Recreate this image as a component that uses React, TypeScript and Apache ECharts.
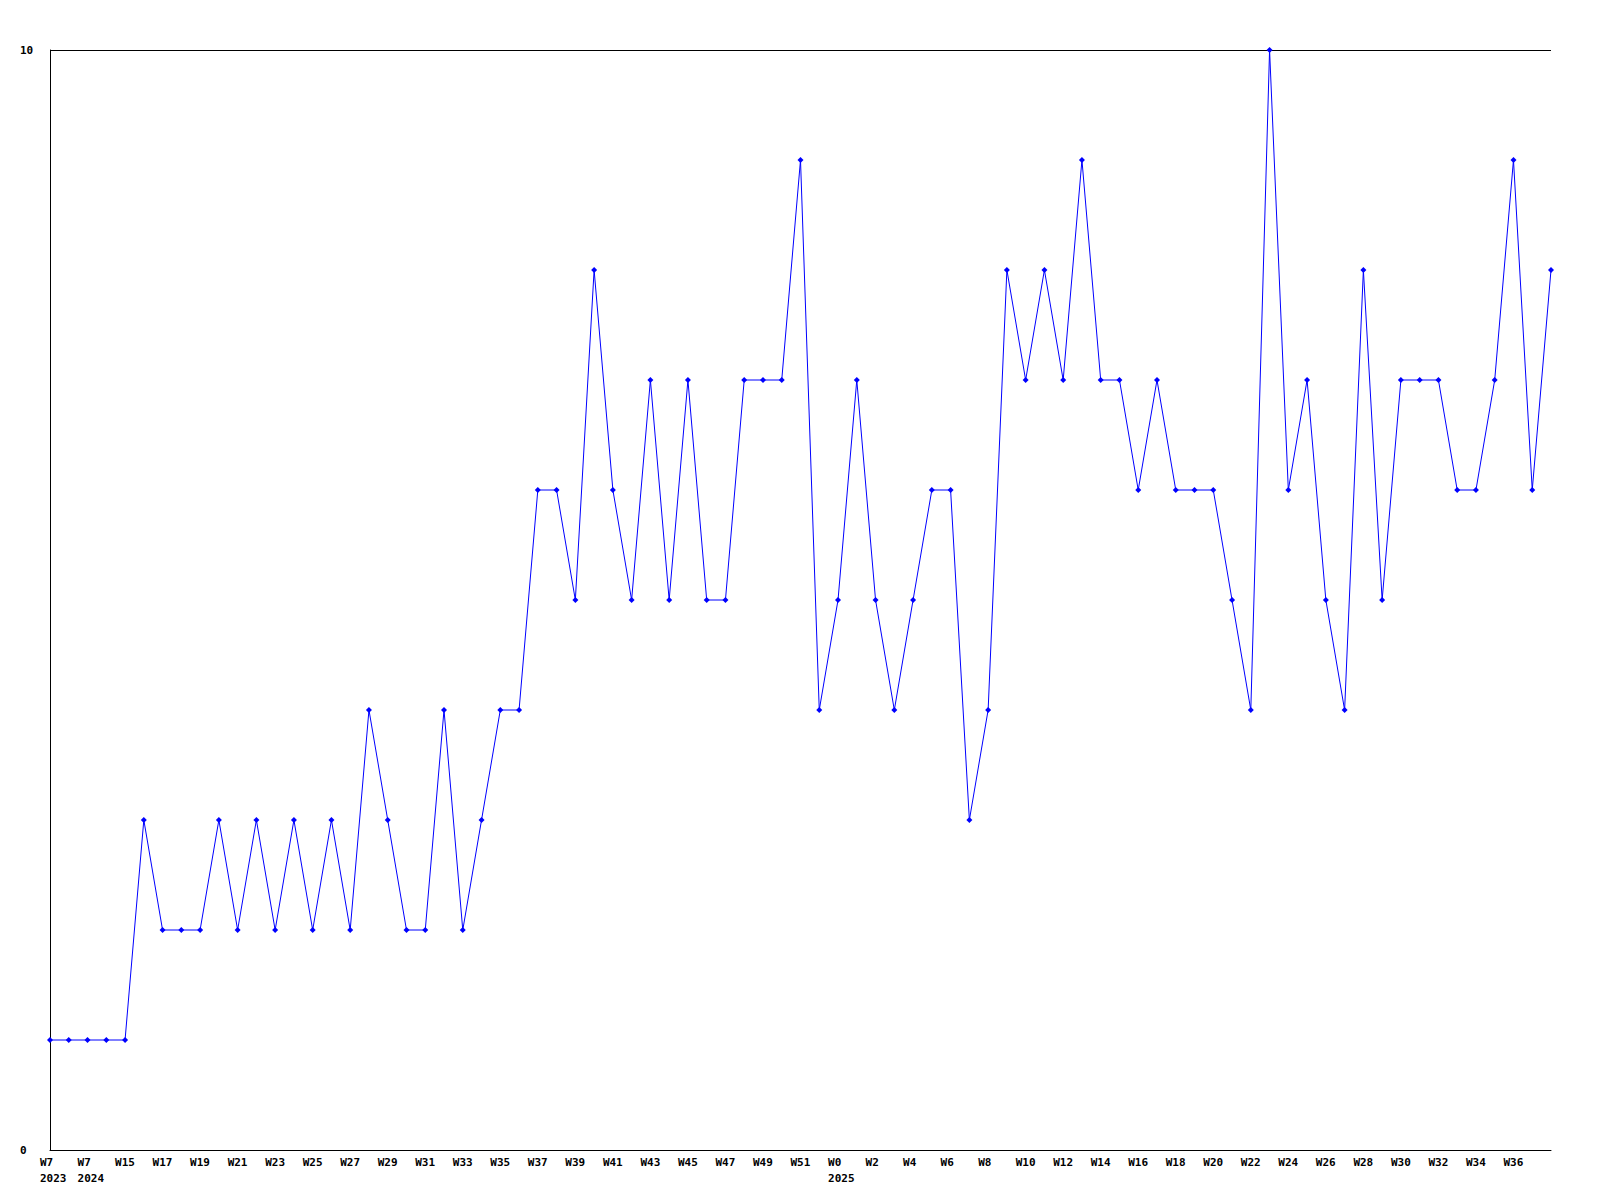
import React, { useEffect, useRef } from "react";
import * as echarts from "echarts";

const weekLabels: string[] = [
  "W7\n2023", "W8", "W7\n2024", "W14", "W15", "W16", "W17", "W18", "W19", "W20",
  "W21", "W22", "W23", "W24", "W25", "W26", "W27", "W28", "W29", "W30",
  "W31", "W32", "W33", "W34", "W35", "W36", "W37", "W38", "W39", "W40",
  "W41", "W42", "W43", "W44", "W45", "W46", "W47", "W48", "W49", "W50",
  "W51", "W52", "W0\n2025", "W1", "W2", "W3", "W4", "W5", "W6", "W7",
  "W8", "W9", "W10", "W11", "W12", "W13", "W14", "W15", "W16", "W17",
  "W18", "W19", "W20", "W21", "W22", "W23", "W24", "W25", "W26", "W27",
  "W28", "W29", "W30", "W31", "W32", "W33", "W34", "W35", "W36", "W37",
  "W38",
];

const counts: number[] = [
  1, 1, 1, 1, 1, 3, 2, 2, 2, 3,
  2, 3, 2, 3, 2, 3, 2, 4, 3, 2,
  2, 4, 2, 3, 4, 4, 6, 6, 5, 8,
  6, 5, 7, 5, 7, 5, 5, 7, 7, 7,
  9, 4, 5, 7, 5, 4, 5, 6, 6, 3,
  4, 8, 7, 8, 7, 9, 7, 7, 6, 7,
  6, 6, 6, 5, 4, 10, 6, 7, 5, 4,
  8, 5, 7, 7, 7, 6, 6, 7, 9, 6,
  8,
];

const yMin = 0;
const yMax = 10;

export default function App() {
  const ref = useRef<HTMLDivElement>(null);
  useEffect(() => {
    if (!ref.current) return;
    const chart = echarts.init(ref.current, undefined, { renderer: "svg" });
    const font = "DejaVu Sans Mono";
    chart.setOption({
      animation: false,
      backgroundColor: "#ffffff",
      grid: { left: 50, right: 49, top: 50, bottom: 50 },
      xAxis: {
        type: "category",
        data: weekLabels,
        boundaryGap: false,
        axisLine: { show: true, lineStyle: { color: "#000", width: 1 } },
        axisTick: { show: false },
        splitLine: { show: false },
        axisLabel: {
          interval: 1,
          showMaxLabel: false,
          align: "left",
          padding: [0, 0, 0, -10],
          margin: 4,
          color: "#000",
          fontFamily: font,
          fontWeight: "bold",
          fontSize: 11,
          lineHeight: 16,
        },
      },
      yAxis: {
        type: "value",
        min: yMin,
        max: yMax,
        interval: 10,
        axisLine: { show: true, lineStyle: { color: "#000", width: 1 } },
        axisTick: { show: false },
        splitLine: { show: true, lineStyle: { color: "#000", width: 1 } },
        axisLabel: {
          align: "left",
          margin: 30,
          color: "#000",
          fontFamily: font,
          fontWeight: "bold",
          fontSize: 11,
        },
      },
      series: [
        {
          type: "line",
          data: counts,
          symbol: "diamond",
          symbolSize: 6,
          showSymbol: true,
          lineStyle: { color: "#0000ff", width: 1 },
          itemStyle: { color: "#0000ff" },
        },
      ],
    });
    return () => chart.dispose();
  }, []);
  return (
    <div
      ref={ref}
      style={{ position: "fixed", left: 0, top: 0, width: 1600, height: 1200, background: "#fff" }}
    />
  );
}
